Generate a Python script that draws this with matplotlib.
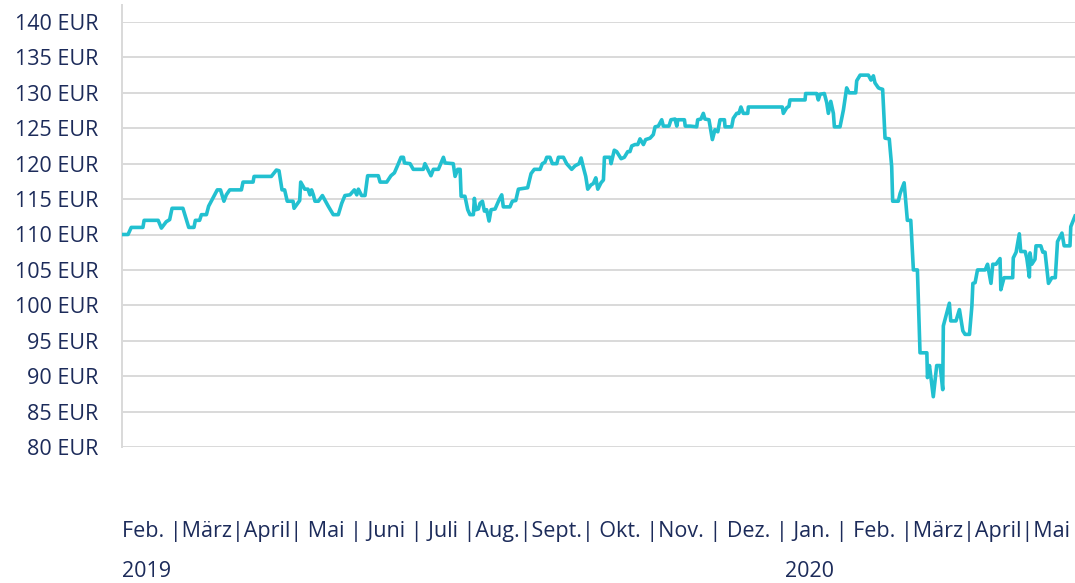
import matplotlib
matplotlib.use("Agg")
import matplotlib.pyplot as plt
import numpy as np
import pandas as pd

# ---- data -------------------------------------------------------------
start_date = "2019-02-01"
day_offsets = [0.5, 3, 4.6, 10.4, 11, 18, 19.6, 22, 23.7, 24.9, 30.3, 33.2, 35.8, 36.5, 38.6,
               39.5, 42, 43.1, 47.4, 49, 50.7, 51.9, 53.6, 59.4, 60.2, 65.2, 65.7, 74.3, 76.8,
               78.1, 79.6, 80.9, 82.2, 85.1, 85.6, 88.4, 88.9, 90.9, 92.5, 93.5, 94.3, 95.2,
               96, 97.7, 99.7, 102.6, 105.1, 107.6, 109.3, 110.9, 113.4, 115.6, 116.8, 117.6,
               119.2, 120.9, 122.2, 127.5, 128.4, 131.7, 133.8, 135.5, 137.5, 138.8, 140,
               140.5, 143.3, 144.9, 149.9, 150.7, 152.1, 153.7, 154.9, 157.4, 159.9, 160.7,
               164.8, 165.7, 167, 168.2, 168.7, 170.6, 172, 173.1, 174.8, 175.3, 176, 177.3,
               178.1, 179.3, 180.3, 181.4, 182.6, 183.6, 185.6, 187.6,
               188.9, 189.7, 193, 194.2, 195.9, 197.2, 201.8, 203.5, 205.1, 208, 209.1, 210.4,
               211.3, 212.9, 214.1, 216.3, 217.1, 219.6, 221.2, 223.7, 225.4, 227.4, 228.4,
               229.5, 230.7, 231.7, 233.3, 234.5, 235.7, 236.7, 238.3, 239.5, 240, 242.8,
               243.3, 244.9, 246.1, 248.3, 249.9, 251.6, 252.7, 253.6, 255.2, 256.6, 257.7,
               259.4, 260.5, 262.7, 264.3, 265.2, 266.8, 268.5, 269.3, 272.1, 273.1, 275.1,
               276, 276.5, 279.8, 280.2, 282.7,
               285.9, 286.4, 288, 289.2, 290, 292, 293.7, 295, 296.4, 297.5, 299.7, 300,
               303.3, 304.1, 305.8, 306.9, 307.9, 309.1, 311.3, 311.6, 328.5, 329, 330.7,
               331.8, 332.3, 339.8, 340.1, 345.6, 346.4, 347.3, 349.4, 350.6, 351.4, 352.6,
               353.9, 354.4, 357.2, 358.9, 360.5, 361.7, 365, 365.5, 367.2, 371.3, 372.6,
               373.8, 374.6, 376.3,
               377.1, 378.4, 379.1, 379.6, 381.7, 382.9, 383.4, 386.2, 387.1, 389.1, 390.7,
               392.4, 393.7, 395.7, 397, 400.4, 400.7, 401.7, 403.6, 405.3, 407, 408.3, 408.6,
               411.6, 412.3, 414.9, 416.6, 418.3, 419.4, 421.6, 422.8, 423.3, 424.4, 425.6,
               429.4, 430.6, 432.3, 433.2, 434.8, 436.8, 437.2, 438.8, 443.1, 443.4, 444.8,
               446.4, 447.1, 449.3, 450.1, 451.4, 451.7, 452.6, 454.2, 454.7, 457.1, 458.1,
               459.2, 460.9, 462.6, 464.3, 465.4, 467.6, 468.7, 471.6, 472, 474.1]
prices = [110.0, 110.0, 111.0, 111.0, 112.0, 112.0, 110.9, 111.8, 112.1, 113.7, 113.7, 111.0,
          111.0, 112.0, 112.0, 112.8, 112.8, 114.0, 116.3, 116.3, 114.7, 115.6, 116.3, 116.3,
          117.4, 117.4, 118.2, 118.2, 119.1, 119.0, 116.3, 116.3, 114.7, 114.7, 113.7, 114.8,
          117.4, 116.4, 116.4, 115.6, 116.3, 115.6,
          114.7, 114.7, 115.5, 114.0, 112.8, 112.8, 114.4, 115.5, 115.6, 116.3, 115.6, 116.4,
          115.5, 115.5, 118.3, 118.3, 117.4, 117.4, 118.3, 118.7, 120.0, 120.9, 120.9,
          120.1, 120.0, 119.2, 119.2, 120.0, 119.2, 118.3, 119.2, 119.2, 120.9, 120.1,
          120.0, 118.2, 119.2, 119.2, 115.4, 115.4, 113.5, 112.8, 112.8, 115.1, 113.5, 113.6,
          114.4, 114.7, 113.3, 113.5, 111.9, 113.5, 113.6, 114.9,
          115.6, 113.9, 113.9, 114.7, 114.8, 116.4, 116.6, 118.6, 119.2, 119.2, 120.0, 120.2,
          120.9, 120.9, 120.0, 120.0, 120.9, 120.9, 120.0, 119.2, 119.7, 120.0, 120.8,
          119.5, 118.2, 116.4, 117.0, 117.2, 118.0, 116.4, 117.3, 117.7, 120.9, 120.9,
          120.0, 121.9, 121.7, 120.7, 120.9, 121.7, 121.7, 122.5, 122.7, 122.7, 123.5,
          122.7, 123.4, 123.6, 124.1, 125.2, 125.3, 126.2, 125.3, 125.3, 126.2, 126.3,
          125.3, 126.2, 126.2, 125.3, 125.3,
          125.2, 126.2, 126.3, 127.1, 126.3, 126.2, 123.4, 124.8, 124.5, 126.2, 126.2, 125.2,
          125.2, 126.4, 127.1, 127.1, 128.0, 127.1, 127.1, 128.0, 128.0, 127.1, 127.9,
          128.1, 129.0, 129.0, 129.9, 129.9, 129.0, 129.8, 129.9, 128.6, 127.1, 128.8,
          127.1, 125.2, 125.2, 127.6, 130.7, 130.0, 130.0, 131.7, 132.5, 132.5, 131.8,
          132.4, 131.4, 130.7,
          130.6, 130.5, 126.6, 123.6, 123.5, 119.6, 114.7, 114.7, 115.8, 117.3, 112.0,
          112.0, 105.0, 105.0, 93.3, 93.3, 89.8, 91.5, 87.1, 91.5, 91.5, 88.1, 97.1,
          100.3, 97.8, 97.8, 99.4, 96.4, 95.9, 95.9, 99.9, 103.1, 103.2, 105.0,
          105.0, 105.8, 103.1, 105.8, 105.8, 106.6, 102.2, 103.9, 103.9, 106.7, 107.5,
          110.1, 107.6, 107.6, 106.7, 104.0, 107.4, 105.8, 106.5, 108.4, 108.4, 107.5,
          107.5, 103.1, 103.9, 103.9, 109.0, 110.2, 108.4, 108.4, 111.1, 112.6]
y_ticks = [80, 85, 90, 95, 100, 105, 110, 115, 120, 125, 130, 135, 140]
month_row = "Feb. |März|April| Mai | Juni | Juli |Aug.|Sept.| Okt. |Nov. | Dez. | Jan. | Feb. |März|April|Mai"
year_labels = ["2019", "2020"]

# ---- style ------------------------------------------------------------
FONT = ["Open Sans", "DejaVu Sans"]
TEXT_COLOR = "#1c2b5a"
LINE_COLOR = "#22c0d0"
GRID_COLOR = "#d9d9d9"
plt.rcParams["font.family"] = FONT

dates = pd.Timestamp(start_date) + pd.to_timedelta(day_offsets, unit="D")

fig = plt.figure(figsize=(10.75, 5.83), dpi=100)
ax = fig.add_axes([122 / 1075, 136 / 583, 1 - 122 / 1075, 425 / 583])

ax.plot(dates, prices, color=LINE_COLOR, lw=2.6, solid_joinstyle="round", zorder=3)

ax.set_ylim(80, 140)
ax.set_xlim(pd.Timestamp(start_date), pd.Timestamp(start_date) + pd.Timedelta(days=474.1))
ax.set_yticks(y_ticks)
ax.set_yticklabels([f"{v} EUR" for v in y_ticks])
ax.tick_params(axis="y", length=0, pad=17, labelsize=15.5, labelcolor=TEXT_COLOR)
ax.set_xticks([])
ax.yaxis.grid(True, color=GRID_COLOR, lw=1.4)
ax.set_axisbelow(True)
for s in ax.spines.values():
    s.set_visible(False)
# left axis line, extending slightly above the top gridline
ax.plot([0, 0], [0, 1.04], transform=ax.transAxes, color=GRID_COLOR, lw=1.4,
        clip_on=False, zorder=1)

# month row and years
fig.text(122 / 1075, 1 - 536.7 / 583, month_row, fontsize=15.5, color=TEXT_COLOR,
         ha="left", va="baseline")
fig.text(122 / 1075, 1 - 577.3 / 583, year_labels[0], fontsize=15.5, color=TEXT_COLOR,
         ha="left", va="baseline")
fig.text(809 / 1075, 1 - 577.3 / 583, year_labels[1], fontsize=15.5, color=TEXT_COLOR,
         ha="center", va="baseline")

fig.savefig("out.png", dpi=100)
